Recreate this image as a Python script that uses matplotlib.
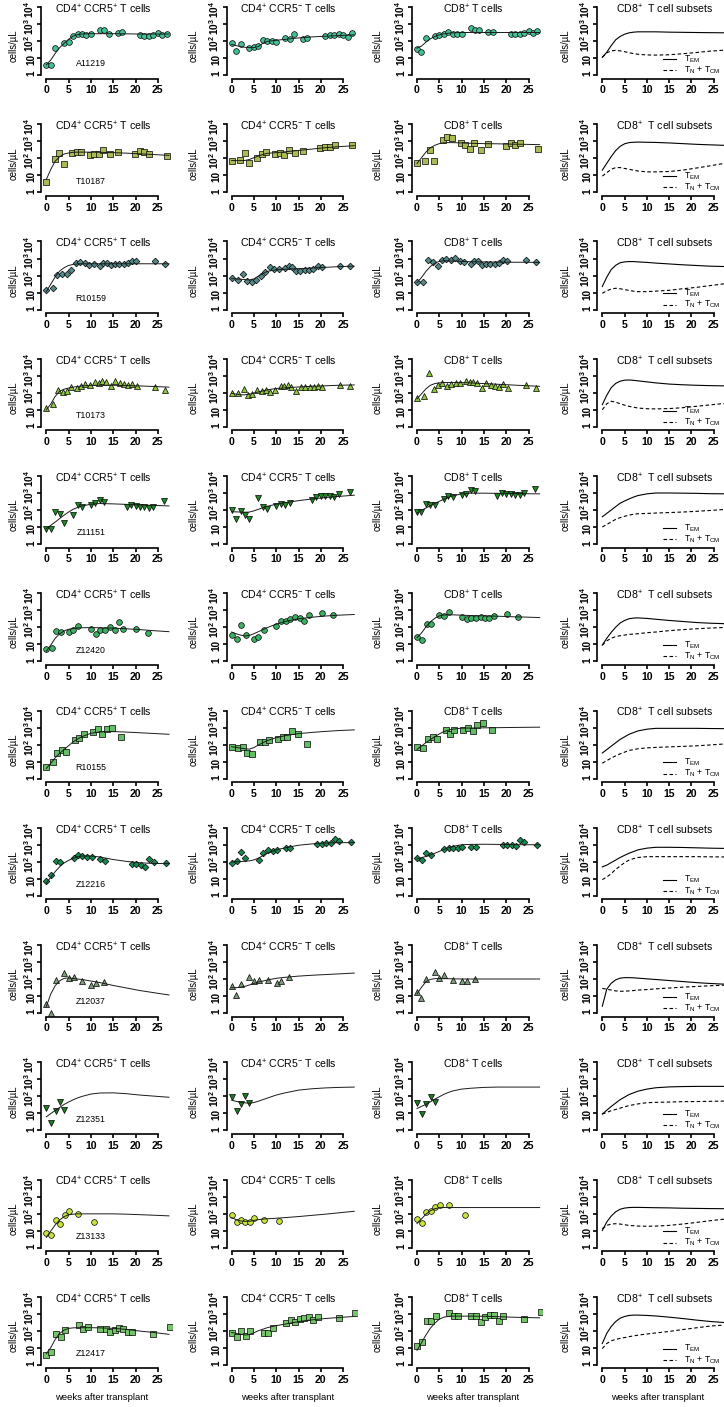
import numpy as np
import matplotlib
matplotlib.use("Agg")
import matplotlib.pyplot as plt
from matplotlib.ticker import NullLocator

plt.rcParams['font.family'] = ['Liberation Sans', 'DejaVu Sans']
plt.rcParams['mathtext.fontset'] = 'custom'
plt.rcParams['mathtext.rm'] = 'Liberation Sans'
plt.rcParams['mathtext.it'] = 'Liberation Sans:italic'
plt.rcParams['mathtext.bf'] = 'Liberation Sans:bold'

# ---------------------------------------------------------------
# data, all values are log10(cells/uL)
# ---------------------------------------------------------------
animal_ids = ['A11219', 'T10187', 'R10159', 'T10173', 'Z11151', 'Z12420',
              'R10155', 'Z12216', 'Z12037', 'Z12351', 'Z13133', 'Z12417']

# weeks at which the model fits were read
fit_weeks = [0, 1, 2, 3, 4, 5, 6, 7, 8, 10, 12, 15, 18, 21, 24, 27.5]
subset_weeks = [0, 1, 2, 3, 4, 5, 6, 7, 8, 10, 12, 15, 18, 21, 24, 28.5]

# A11219
a11219_weeks = [0, 1, 2, 4, 5, 6, 7, 8, 9, 10, 12, 13, 14, 16, 17, 21, 22, 23, 24, 25, 26, 27]
a11219_ccr5pos = [0.61, 0.61, 1.61, 1.86, 1.96, 2.31, 2.39, 2.43, 2.37, 2.41, 2.67, 2.63, 2.41, 2.47, 2.51, 2.33, 2.31, 2.29, 2.35, 2.47, 2.37, 2.43]
a11219_ccr5neg = [1.86, 1.43, 1.84, 1.57, 1.63, 1.69, 2.06, 2.02, 2.02, 1.96, 2.16, 2.12, 2.39, 2.14, 2.20, 2.31, 2.35, 2.33, 2.39, 2.35, 2.22, 2.47]
a11219_cd8 = [1.52, 1.38, 2.15, 2.27, 2.34, 2.40, 2.52, 2.42, 2.42, 2.40, 2.78, 2.66, 2.62, 2.52, 2.50, 2.42, 2.42, 2.42, 2.46, 2.60, 2.46, 2.58]
a11219_fit_ccr5pos = [0.59, 0.88, 1.27, 1.61, 1.86, 2.10, 2.29, 2.37, 2.41, 2.43, 2.43, 2.43, 2.42, 2.41, 2.41, 2.41]
a11219_fit_ccr5neg = [1.80, 1.73, 1.67, 1.63, 1.61, 1.61, 1.68, 1.86, 1.98, 2.04, 2.10, 2.18, 2.24, 2.28, 2.32, 2.36]
a11219_fit_cd8 = [1.58, 1.70, 1.93, 2.13, 2.27, 2.36, 2.42, 2.46, 2.48, 2.50, 2.50, 2.50, 2.50, 2.50, 2.50, 2.50]
a11219_tem = [1.04, 1.34, 1.73, 2.07, 2.27, 2.40, 2.48, 2.52, 2.54, 2.54, 2.54, 2.52, 2.51, 2.50, 2.49, 2.48]
a11219_tncm = [1.04, 1.30, 1.42, 1.45, 1.42, 1.37, 1.31, 1.26, 1.22, 1.18, 1.17, 1.19, 1.25, 1.32, 1.40, 1.48]

# T10187
t10187_weeks = [0, 1.9, 2.9, 3.9, 5.8, 6.8, 7.8, 9.8, 10.8, 11.8, 12.8, 14.3, 16, 19.9, 21, 22, 23.1, 27.1]
t10187_ccr5pos = [0.61, 1.97, 2.33, 1.64, 2.33, 2.38, 2.36, 2.19, 2.27, 2.25, 2.50, 2.25, 2.34, 2.23, 2.40, 2.34, 2.27, 2.15]
t10187_ccr5neg = [1.81, 1.91, 2.31, 1.73, 2.01, 2.27, 2.36, 2.27, 2.33, 2.17, 2.46, 2.31, 2.44, 2.62, 2.68, 2.66, 2.80, 2.76]
t10187_cd8 = [1.73, 1.83, 2.48, 1.85, 3.07, 3.25, 3.19, 2.88, 2.78, 2.54, 2.92, 2.48, 2.84, 2.72, 2.92, 2.80, 2.90, 2.54]
t10187_fit_ccr5pos = [0.75, 1.34, 1.83, 2.09, 2.25, 2.31, 2.35, 2.36, 2.36, 2.36, 2.35, 2.33, 2.30, 2.26, 2.22, 2.17]
t10187_fit_ccr5neg = [1.87, 1.86, 1.86, 1.87, 1.93, 2.03, 2.13, 2.22, 2.29, 2.33, 2.38, 2.46, 2.54, 2.62, 2.68, 2.74]
t10187_fit_cd8 = [1.69, 2.03, 2.36, 2.62, 2.76, 2.86, 2.91, 2.92, 2.92, 2.90, 2.88, 2.86, 2.85, 2.83, 2.82, 2.80]
t10187_tem = [1.30, 1.70, 2.10, 2.45, 2.70, 2.85, 2.92, 2.94, 2.95, 2.94, 2.93, 2.90, 2.86, 2.82, 2.79, 2.75]
t10187_tncm = [0.95, 1.15, 1.35, 1.45, 1.45, 1.40, 1.35, 1.30, 1.25, 1.20, 1.20, 1.22, 1.30, 1.42, 1.55, 1.75]

# R10159
r10159_weeks = [0, 1.4, 2.5, 3.5, 4.6, 5.5, 6.6, 7.6, 8.6, 9.6, 10.6, 12, 12.8, 13.6, 14.5, 15.4, 16.4, 17.4, 18.3, 19.3, 20.2, 24.4, 26.6]
r10159_ccr5pos = [1.13, 1.29, 2.02, 2.08, 2.08, 2.32, 2.71, 2.77, 2.75, 2.61, 2.67, 2.57, 2.73, 2.75, 2.61, 2.65, 2.67, 2.69, 2.73, 2.83, 2.83, 2.85, 2.67]
r10159_ccr5neg = [1.84, 1.76, 2.06, 1.66, 1.64, 1.76, 1.98, 2.18, 2.48, 2.36, 2.40, 2.46, 2.55, 2.50, 2.26, 2.26, 2.34, 2.34, 2.36, 2.55, 2.51, 2.55, 2.55]
r10159_cd8 = [1.64, 1.64, 2.89, 2.77, 2.55, 2.89, 2.97, 2.93, 3.03, 2.83, 2.81, 2.69, 2.87, 2.87, 2.61, 2.67, 2.69, 2.69, 2.75, 2.89, 2.83, 2.91, 2.77]
r10159_fit_ccr5pos = [1.05, 1.49, 1.92, 2.26, 2.46, 2.59, 2.65, 2.68, 2.69, 2.69, 2.69, 2.69, 2.69, 2.69, 2.69, 2.69]
r10159_fit_ccr5neg = [1.82, 1.80, 1.78, 1.76, 1.74, 1.80, 1.96, 2.12, 2.24, 2.34, 2.36, 2.40, 2.44, 2.48, 2.52, 2.55]
r10159_fit_cd8 = [1.58, 1.88, 2.24, 2.53, 2.73, 2.83, 2.87, 2.86, 2.85, 2.83, 2.81, 2.80, 2.79, 2.78, 2.78, 2.77]
r10159_tem = [1.35, 1.90, 2.35, 2.60, 2.75, 2.80, 2.82, 2.82, 2.80, 2.77, 2.73, 2.68, 2.63, 2.59, 2.55, 2.52]
r10159_tncm = [0.95, 1.10, 1.20, 1.25, 1.22, 1.17, 1.12, 1.08, 1.05, 1.05, 1.08, 1.13, 1.22, 1.30, 1.40, 1.55]

# T10173
t10173_weeks = [0, 1.5, 2.7, 3.7, 4.6, 5.6, 6.8, 7.7, 8.7, 9.7, 11, 11.8, 12.6, 13.4, 14.5, 15.5, 16.5, 17.5, 18.4, 19.3, 20.3, 24.4, 26.6]
t10173_ccr5pos = [1.10, 1.36, 2.17, 2.07, 2.13, 2.33, 2.27, 2.42, 2.52, 2.46, 2.64, 2.58, 2.68, 2.62, 2.42, 2.68, 2.60, 2.54, 2.48, 2.50, 2.42, 2.33, 2.19]
t10173_ccr5neg = [2.01, 1.99, 2.21, 1.87, 1.95, 2.15, 2.11, 2.17, 2.05, 2.17, 2.42, 2.38, 2.44, 2.31, 2.09, 2.31, 2.31, 2.31, 2.31, 2.42, 2.36, 2.46, 2.42]
t10173_cd8 = [1.69, 1.83, 3.19, 2.23, 2.46, 2.60, 2.40, 2.52, 2.58, 2.60, 2.68, 2.62, 2.66, 2.56, 2.27, 2.56, 2.48, 2.40, 2.36, 2.50, 2.29, 2.44, 2.27]
t10173_fit_ccr5pos = [0.99, 1.34, 1.79, 2.09, 2.21, 2.28, 2.33, 2.37, 2.40, 2.44, 2.44, 2.44, 2.42, 2.40, 2.37, 2.33]
t10173_fit_ccr5neg = [1.97, 1.92, 1.88, 1.88, 1.92, 1.98, 2.05, 2.11, 2.17, 2.25, 2.29, 2.34, 2.38, 2.41, 2.44, 2.46]
t10173_fit_cd8 = [1.64, 1.93, 2.23, 2.44, 2.54, 2.58, 2.60, 2.60, 2.60, 2.60, 2.58, 2.54, 2.50, 2.46, 2.42, 2.38]
t10173_tem = [1.30, 1.85, 2.30, 2.55, 2.68, 2.74, 2.75, 2.73, 2.70, 2.64, 2.58, 2.51, 2.47, 2.44, 2.42, 2.40]
t10173_tncm = [1.00, 1.35, 1.50, 1.45, 1.35, 1.27, 1.20, 1.15, 1.10, 1.06, 1.05, 1.07, 1.12, 1.20, 1.28, 1.40]

# Z11151
z11151_weeks = [0, 1, 2, 3, 4, 6, 7, 8, 10, 11, 12, 13, 18, 19, 20, 21, 22, 23, 24, 26.5]
z11151_ccr5pos = [0.89, 0.89, 1.88, 1.78, 1.25, 1.68, 2.28, 2.16, 2.32, 2.42, 2.57, 2.50, 2.18, 2.32, 2.24, 2.20, 2.20, 2.12, 2.20, 2.51]
z11151_ccr5neg = [2.00, 1.50, 1.94, 1.70, 1.45, 2.71, 2.16, 2.06, 2.24, 2.38, 2.32, 2.44, 2.61, 2.77, 2.85, 2.85, 2.85, 2.79, 2.93, 3.07]
z11151_cd8 = [1.86, 1.88, 2.38, 2.28, 2.28, 2.67, 2.81, 2.77, 2.91, 2.95, 3.17, 3.09, 2.83, 2.99, 2.97, 2.93, 2.89, 2.91, 2.99, 3.21]
z11151_fit_ccr5pos = [0.91, 1.10, 1.29, 1.50, 1.70, 1.88, 2.04, 2.15, 2.24, 2.34, 2.38, 2.36, 2.33, 2.30, 2.27, 2.24]
z11151_fit_ccr5neg = [1.90, 1.89, 1.88, 1.87, 1.88, 1.95, 2.04, 2.13, 2.22, 2.34, 2.43, 2.55, 2.65, 2.73, 2.80, 2.87]
z11151_fit_cd8 = [1.82, 1.97, 2.12, 2.25, 2.38, 2.51, 2.63, 2.74, 2.83, 2.95, 2.99, 2.99, 2.98, 2.97, 2.96, 2.95]
z11151_tem = [1.60, 1.80, 2.00, 2.20, 2.40, 2.53, 2.65, 2.76, 2.85, 2.95, 3.00, 3.00, 2.99, 2.98, 2.96, 2.95]
z11151_tncm = [1.00, 1.15, 1.30, 1.45, 1.55, 1.63, 1.70, 1.75, 1.78, 1.80, 1.82, 1.85, 1.88, 1.92, 1.97, 2.05]

# Z12420
z12420_weeks = [0, 1.2, 2.2, 3.2, 5, 6, 7.2, 10, 11.1, 12.1, 13.2, 14.3, 15.3, 16.2, 17.3, 20.2, 22.7]
z12420_ccr5pos = [0.73, 0.79, 1.80, 1.70, 1.74, 1.86, 2.08, 1.90, 1.58, 1.86, 1.82, 2.02, 1.84, 2.30, 1.88, 1.88, 1.66]
z12420_ccr5neg = [1.52, 1.29, 2.12, 1.52, 1.33, 1.45, 1.84, 2.10, 2.38, 2.36, 2.46, 2.59, 2.53, 2.36, 2.71, 2.83, 2.75]
z12420_cd8 = [1.45, 1.25, 2.18, 2.22, 2.71, 2.65, 2.89, 2.63, 2.46, 2.53, 2.57, 2.63, 2.53, 2.57, 2.65, 2.77, 2.63]
z12420_fit_ccr5pos = [0.59, 0.95, 1.35, 1.62, 1.78, 1.88, 1.93, 1.96, 1.97, 1.98, 1.97, 1.95, 1.91, 1.86, 1.80, 1.74]
z12420_fit_ccr5neg = [1.72, 1.62, 1.54, 1.49, 1.52, 1.62, 1.74, 1.86, 1.98, 2.18, 2.34, 2.50, 2.59, 2.66, 2.71, 2.75]
z12420_fit_cd8 = [1.39, 1.66, 2.02, 2.32, 2.53, 2.67, 2.72, 2.73, 2.73, 2.71, 2.69, 2.67, 2.65, 2.62, 2.60, 2.57]
z12420_tem = [0.95, 1.35, 1.70, 2.00, 2.25, 2.40, 2.50, 2.54, 2.55, 2.52, 2.47, 2.40, 2.34, 2.28, 2.24, 2.20]
z12420_tncm = [0.95, 1.20, 1.35, 1.45, 1.50, 1.54, 1.58, 1.60, 1.62, 1.68, 1.72, 1.80, 1.86, 1.91, 1.95, 2.00]

# R10155
r10155_weeks = [0, 1.4, 2.5, 3.5, 4.5, 6.4, 7.4, 8.4, 10.4, 11.5, 12.5, 13.5, 14.8, 16.8]
r10155_ccr5pos = [0.67, 0.95, 1.50, 1.66, 1.54, 2.27, 2.36, 2.64, 2.72, 2.94, 2.62, 2.94, 3.00, 2.42]
r10155_ccr5neg = [1.85, 1.77, 1.87, 1.50, 1.46, 2.17, 2.17, 2.29, 2.34, 2.46, 2.42, 2.80, 2.62, 2.01]
r10155_cd8 = [1.87, 1.81, 2.31, 2.46, 2.34, 2.88, 2.64, 2.84, 2.84, 3.00, 2.80, 3.13, 3.27, 2.84]
r10155_fit_ccr5pos = [0.59, 0.89, 1.22, 1.48, 1.71, 1.93, 2.15, 2.32, 2.46, 2.66, 2.74, 2.76, 2.73, 2.69, 2.65, 2.60]
r10155_fit_ccr5neg = [1.87, 1.83, 1.79, 1.75, 1.73, 1.82, 1.97, 2.10, 2.23, 2.40, 2.52, 2.64, 2.71, 2.77, 2.82, 2.86]
r10155_fit_cd8 = [1.71, 1.91, 2.11, 2.29, 2.46, 2.62, 2.76, 2.84, 2.90, 2.96, 2.97, 2.98, 2.99, 3.00, 3.01, 3.02]
r10155_tem = [1.50, 1.70, 1.90, 2.10, 2.30, 2.45, 2.60, 2.70, 2.80, 2.90, 2.95, 2.95, 2.95, 2.95, 2.94, 2.93]
r10155_tncm = [0.90, 1.05, 1.20, 1.33, 1.45, 1.55, 1.65, 1.70, 1.75, 1.80, 1.83, 1.86, 1.89, 1.92, 1.97, 2.05]

# Z12216
z12216_weeks = [0, 1.1, 2.1, 3.1, 6.1, 7.1, 8.1, 9.2, 10.2, 12.1, 13.2, 19.2, 20.2, 21.2, 22.2, 23.1, 24.1, 26.8]
z12216_ccr5pos = [0.87, 1.24, 2.07, 1.97, 2.21, 2.40, 2.36, 2.27, 2.29, 2.19, 2.07, 1.85, 1.89, 1.79, 1.67, 2.17, 1.97, 1.91]
z12216_ccr5neg = [1.95, 2.03, 2.58, 2.21, 2.13, 2.50, 2.68, 2.64, 2.72, 2.80, 2.82, 3.03, 3.05, 3.13, 3.11, 3.33, 3.23, 3.19]
z12216_cd8 = [2.23, 2.09, 2.52, 2.40, 2.76, 2.80, 2.82, 2.78, 2.84, 2.88, 2.88, 2.96, 3.00, 2.98, 2.94, 3.27, 3.15, 3.01]
z12216_fit_ccr5pos = [0.75, 1.08, 1.42, 1.71, 1.93, 2.08, 2.21, 2.29, 2.34, 2.34, 2.28, 2.13, 2.02, 1.94, 1.90, 1.89]
z12216_fit_ccr5neg = [1.99, 2.00, 2.01, 2.03, 2.05, 2.11, 2.21, 2.36, 2.50, 2.70, 2.82, 2.97, 3.05, 3.10, 3.12, 3.13]
z12216_fit_cd8 = [2.17, 2.24, 2.31, 2.40, 2.50, 2.61, 2.72, 2.82, 2.90, 3.00, 3.02, 3.03, 3.02, 3.01, 3.00, 3.00]
z12216_tem = [1.70, 1.80, 1.95, 2.10, 2.25, 2.38, 2.50, 2.60, 2.70, 2.80, 2.85, 2.85, 2.84, 2.82, 2.80, 2.78]
z12216_tncm = [0.95, 1.10, 1.30, 1.55, 1.75, 1.95, 2.10, 2.18, 2.25, 2.30, 2.30, 2.30, 2.30, 2.30, 2.29, 2.28]

# Z12037
z12037_weeks = [0, 1, 2.1, 4, 5, 6.1, 8.1, 10.1, 11.1, 12.9]
z12037_ccr5pos = [0.51, 0.02, 1.92, 2.35, 2.04, 2.12, 1.88, 1.63, 1.76, 1.80]
z12037_ccr5neg = [1.59, 1.04, 1.69, 2.12, 1.90, 1.92, 1.94, 1.75, 1.88, 2.10]
z12037_cd8 = [1.24, 0.86, 1.98, 2.41, 2.08, 2.24, 1.92, 1.86, 1.90, 1.98]
z12037_fit_ccr5pos = [0.37, 1.12, 1.61, 1.90, 2.04, 2.06, 2.04, 2.00, 1.97, 1.88, 1.79, 1.62, 1.47, 1.32, 1.20, 1.06]
z12037_fit_ccr5neg = [1.49, 1.49, 1.51, 1.57, 1.65, 1.74, 1.82, 1.88, 1.94, 2.04, 2.10, 2.17, 2.22, 2.26, 2.30, 2.35]
z12037_fit_cd8 = [1.12, 1.51, 1.84, 1.98, 2.02, 2.03, 2.02, 2.02, 2.01, 2.00, 2.00, 2.00, 2.00, 2.00, 2.00, 2.00]
z12037_tem = [0.40, 1.40, 1.75, 1.95, 2.05, 2.08, 2.08, 2.07, 2.05, 2.01, 1.97, 1.91, 1.85, 1.79, 1.74, 1.68]
z12037_tncm = [1.45, 1.40, 1.35, 1.30, 1.28, 1.28, 1.30, 1.32, 1.35, 1.38, 1.42, 1.47, 1.52, 1.56, 1.60, 1.65]

# Z12351
z12351_weeks = [0, 1.1, 2.1, 3.1, 4]
z12351_ccr5pos = [1.32, 0.43, 1.14, 1.66, 1.22]
z12351_ccr5neg = [1.95, 1.12, 1.55, 2.00, 1.59]
z12351_cd8 = [1.58, 0.95, 1.54, 1.93, 1.67]
z12351_fit_ccr5pos = [0.79, 0.98, 1.16, 1.34, 1.52, 1.66, 1.79, 1.90, 1.99, 2.13, 2.19, 2.20, 2.15, 2.07, 2.01, 1.94]
z12351_fit_ccr5neg = [1.77, 1.70, 1.65, 1.61, 1.59, 1.63, 1.71, 1.80, 1.89, 2.07, 2.20, 2.36, 2.44, 2.49, 2.52, 2.54]
z12351_fit_cd8 = [1.28, 1.40, 1.52, 1.67, 1.83, 1.97, 2.11, 2.22, 2.31, 2.42, 2.47, 2.52, 2.54, 2.54, 2.54, 2.54]
z12351_tem = [0.95, 1.18, 1.40, 1.60, 1.80, 1.95, 2.10, 2.20, 2.30, 2.42, 2.50, 2.55, 2.57, 2.58, 2.58, 2.58]
z12351_tncm = [0.95, 1.05, 1.15, 1.22, 1.30, 1.38, 1.45, 1.50, 1.55, 1.62, 1.64, 1.66, 1.68, 1.69, 1.70, 1.72]

# Z13133
z13133_weeks = [0, 1.1, 2.1, 3.1, 4.1, 5.1, 7.2, 10.7]
z13133_ccr5pos = [0.83, 0.71, 1.60, 1.41, 1.92, 2.12, 2.00, 1.52]
z13133_ccr5neg = [1.94, 1.50, 1.64, 1.52, 1.49, 1.74, 1.62, 1.54]
z13133_cd8 = [1.66, 1.47, 2.10, 2.16, 2.36, 2.50, 2.51, 1.90]
z13133_fit_ccr5pos = [0.59, 0.97, 1.33, 1.62, 1.82, 1.92, 1.96, 1.98, 1.98, 1.98, 1.98, 1.98, 1.96, 1.93, 1.90, 1.86]
z13133_fit_ccr5neg = [1.76, 1.64, 1.56, 1.54, 1.54, 1.59, 1.64, 1.67, 1.69, 1.72, 1.76, 1.82, 1.89, 1.96, 2.04, 2.13]
z13133_fit_cd8 = [1.41, 1.68, 1.96, 2.16, 2.28, 2.34, 2.35, 2.35, 2.35, 2.35, 2.35, 2.35, 2.35, 2.35, 2.35, 2.35]
z13133_tem = [1.00, 1.50, 1.85, 2.10, 2.25, 2.32, 2.35, 2.36, 2.36, 2.35, 2.34, 2.33, 2.31, 2.30, 2.29, 2.28]
z13133_tncm = [1.10, 1.30, 1.38, 1.40, 1.38, 1.34, 1.30, 1.28, 1.26, 1.25, 1.26, 1.30, 1.38, 1.47, 1.57, 1.70]

# Z12417
z12417_weeks = [0, 1.15, 2.15, 3.2, 4.2, 7.25, 8.25, 9.25, 12.1, 13.3, 14.3, 15.3, 16.3, 17.25, 18.3, 19.3, 24, 27.7]
z12417_ccr5pos = [0.59, 0.73, 1.80, 1.62, 2.06, 2.32, 2.12, 2.24, 2.12, 2.12, 1.94, 2.06, 2.14, 2.12, 1.94, 1.90, 1.80, 2.24]
z12417_ccr5neg = [1.86, 1.62, 2.00, 1.72, 1.96, 1.86, 1.86, 2.14, 2.46, 2.63, 2.51, 2.67, 2.77, 2.83, 2.65, 2.81, 2.77, 3.03]
z12417_cd8 = [1.11, 1.35, 2.58, 2.60, 2.88, 3.04, 2.84, 2.88, 2.86, 2.84, 2.52, 2.82, 2.90, 2.92, 2.60, 2.84, 2.70, 3.10]
z12417_fit_ccr5pos = [0.65, 1.01, 1.49, 1.84, 2.04, 2.14, 2.17, 2.18, 2.18, 2.18, 2.17, 2.14, 2.08, 1.98, 1.90, 1.79]
z12417_fit_ccr5neg = [1.90, 1.85, 1.80, 1.75, 1.78, 1.88, 2.00, 2.09, 2.18, 2.30, 2.39, 2.54, 2.64, 2.72, 2.78, 2.84]
z12417_fit_cd8 = [0.85, 1.29, 1.75, 2.15, 2.45, 2.68, 2.80, 2.84, 2.86, 2.86, 2.86, 2.85, 2.83, 2.80, 2.78, 2.76]
z12417_tem = [1.25, 1.85, 2.25, 2.54, 2.74, 2.84, 2.90, 2.92, 2.92, 2.90, 2.87, 2.80, 2.72, 2.63, 2.55, 2.46]
z12417_tncm = [0.95, 1.25, 1.41, 1.49, 1.55, 1.60, 1.65, 1.70, 1.74, 1.81, 1.87, 1.96, 2.07, 2.17, 2.27, 2.36]

panel_titles = [r'CD4$^{+}$ CCR5$^{+}$ T cells', r'CD4$^{+}$ CCR5$^{-}$ T cells',
                r'CD8$^{+}$ T cells', r'CD8$^{+}$  T cell subsets']
legend_labels = [r'T$_{\mathrm{EM}}$', r'T$_{\mathrm{N}}$ + T$_{\mathrm{CM}}$']

rows = [
    (a11219_weeks, [a11219_ccr5pos, a11219_ccr5neg, a11219_cd8], [a11219_fit_ccr5pos, a11219_fit_ccr5neg, a11219_fit_cd8], a11219_tem, a11219_tncm),
    (t10187_weeks, [t10187_ccr5pos, t10187_ccr5neg, t10187_cd8], [t10187_fit_ccr5pos, t10187_fit_ccr5neg, t10187_fit_cd8], t10187_tem, t10187_tncm),
    (r10159_weeks, [r10159_ccr5pos, r10159_ccr5neg, r10159_cd8], [r10159_fit_ccr5pos, r10159_fit_ccr5neg, r10159_fit_cd8], r10159_tem, r10159_tncm),
    (t10173_weeks, [t10173_ccr5pos, t10173_ccr5neg, t10173_cd8], [t10173_fit_ccr5pos, t10173_fit_ccr5neg, t10173_fit_cd8], t10173_tem, t10173_tncm),
    (z11151_weeks, [z11151_ccr5pos, z11151_ccr5neg, z11151_cd8], [z11151_fit_ccr5pos, z11151_fit_ccr5neg, z11151_fit_cd8], z11151_tem, z11151_tncm),
    (z12420_weeks, [z12420_ccr5pos, z12420_ccr5neg, z12420_cd8], [z12420_fit_ccr5pos, z12420_fit_ccr5neg, z12420_fit_cd8], z12420_tem, z12420_tncm),
    (r10155_weeks, [r10155_ccr5pos, r10155_ccr5neg, r10155_cd8], [r10155_fit_ccr5pos, r10155_fit_ccr5neg, r10155_fit_cd8], r10155_tem, r10155_tncm),
    (z12216_weeks, [z12216_ccr5pos, z12216_ccr5neg, z12216_cd8], [z12216_fit_ccr5pos, z12216_fit_ccr5neg, z12216_fit_cd8], z12216_tem, z12216_tncm),
    (z12037_weeks, [z12037_ccr5pos, z12037_ccr5neg, z12037_cd8], [z12037_fit_ccr5pos, z12037_fit_ccr5neg, z12037_fit_cd8], z12037_tem, z12037_tncm),
    (z12351_weeks, [z12351_ccr5pos, z12351_ccr5neg, z12351_cd8], [z12351_fit_ccr5pos, z12351_fit_ccr5neg, z12351_fit_cd8], z12351_tem, z12351_tncm),
    (z13133_weeks, [z13133_ccr5pos, z13133_ccr5neg, z13133_cd8], [z13133_fit_ccr5pos, z13133_fit_ccr5neg, z13133_fit_cd8], z13133_tem, z13133_tncm),
    (z12417_weeks, [z12417_ccr5pos, z12417_ccr5neg, z12417_cd8], [z12417_fit_ccr5pos, z12417_fit_ccr5neg, z12417_fit_cd8], z12417_tem, z12417_tncm),
]

# marker style per animal
markers = ['o', 's', 'D', '^', 'v', 'o', 's', 'D', '^', 'v', 'o', 's']
colors = ['#45bf98', '#a9bb55', '#548989', '#8ec63f', '#1f8a25', '#3cb063',
          '#63bd66', '#138a4e', '#7d9e7d', '#1f7a24', '#c6e53c', '#74c46a']
msizes = {'o': 4.1, 's': 3.7, 'D': 3.4, '^': 4.5, 'v': 4.5}

# ---------------------------------------------------------------
# layout (pixels)
# ---------------------------------------------------------------
W, H = 724, 1407
ppw = 4.46                       # px per week
zero_px = [46.3, 231.6, 417.0, 602.3]
ylab_px = [14, 194, 378, 566]
row_pitch = 117.25
one_px = 75.0                    # y of "1" inside a row
dec_px = 17.0                    # px per decade
ylo, yhi = -0.22, 4.16

fig = plt.figure(figsize=(W / 100, H / 100), dpi=100)

ylabels = ['1', '10', r'$\mathbf{10^{2}}$', r'$\mathbf{10^{3}}$', r'$\mathbf{10^{4}}$']


def make_axes(r, c):
    left = zero_px[c] - 1.08 * ppw
    width = 29.16 * ppw
    top = r * row_pitch + one_px - yhi * dec_px
    height = (yhi - ylo) * dec_px
    ax = fig.add_axes([left / W, 1 - (top + height) / H, width / W, height / H])
    ax.set_yscale('log')
    ax.set_xlim(-1.08, 28.08)
    ax.set_ylim(10 ** ylo, 10 ** yhi)
    ax.spines['top'].set_visible(False)
    ax.spines['right'].set_visible(False)
    ax.spines['left'].set_bounds(1, 1e4)
    ax.spines['bottom'].set_bounds(0, 25)
    ax.spines['left'].set_linewidth(1.2)
    ax.spines['bottom'].set_linewidth(1.2)
    ax.set_xticks([0, 5, 10, 15, 20, 25])
    ax.set_yticks([1, 10, 100, 1000, 10000])
    ax.set_yticklabels(ylabels)
    ax.yaxis.set_minor_locator(NullLocator())
    ax.tick_params(length=3, width=1.2)
    ax.tick_params(axis='x', pad=1.8, labelsize=7.6)
    ax.tick_params(axis='y', pad=1.0, labelrotation=90, labelsize=7.2)
    for lab in ax.get_xticklabels() + ax.get_yticklabels():
        lab.set_fontweight('bold')
    ax.patch.set_visible(False)
    # y axis title
    fig.text(ylab_px[c] / W, 1 - (r * row_pitch + 46) / H, 'cells/µL',
             rotation=90, ha='center', va='center', fontsize=6.9)
    return ax


for r, (weeks, obs, fits, tem, tncm) in enumerate(rows):
    for c in range(3):
        ax = make_axes(r, c)
        ax.plot(weeks, 10 ** np.array(obs[c]), linestyle='none', marker=markers[r],
                ms=msizes[markers[r]], mfc=colors[r], mec='black', mew=0.5, zorder=3)
        ax.plot(fit_weeks, 10 ** np.array(fits[c]), color='#1a1a1a', lw=0.7, zorder=4)
        ax.text(12.7, 10 ** 3.62, panel_titles[c], ha='center', va='baseline', fontsize=7.6)
        if c == 0:
            ax.text(10, 10 ** 0.65, animal_ids[r], ha='center', va='center', fontsize=6.3)

    # CD8 subsets from the model
    ax = make_axes(r, 3)
    ax.plot(subset_weeks, 10 ** np.array(tem), color='black', lw=0.8)
    ax.plot(subset_weeks, 10 ** np.array(tncm), color='black', lw=0.8, dashes=(3.2, 2.2))
    ax.text(14, 10 ** 3.62, panel_titles[3], ha='center', va='baseline', fontsize=7.6)
    ax.plot([13.7, 16.6], [10 ** 0.95, 10 ** 0.95], color='black', lw=0.8)
    ax.plot([13.7, 16.6], [10 ** 0.28, 10 ** 0.28], color='black', lw=0.8, dashes=(3.2, 2.2))
    ax.text(18.3, 10 ** 0.95, legend_labels[0], va='center', fontsize=6.3)
    ax.text(18.3, 10 ** 0.28, legend_labels[1], va='center', fontsize=6.3)

# x axis title under the last row
for c in range(4):
    fig.text((zero_px[c] + 12.5 * ppw) / W, 1 - 1398 / H, 'weeks after transplant',
             ha='center', va='center', fontsize=6.8)

fig.savefig('out.png', dpi=100)
